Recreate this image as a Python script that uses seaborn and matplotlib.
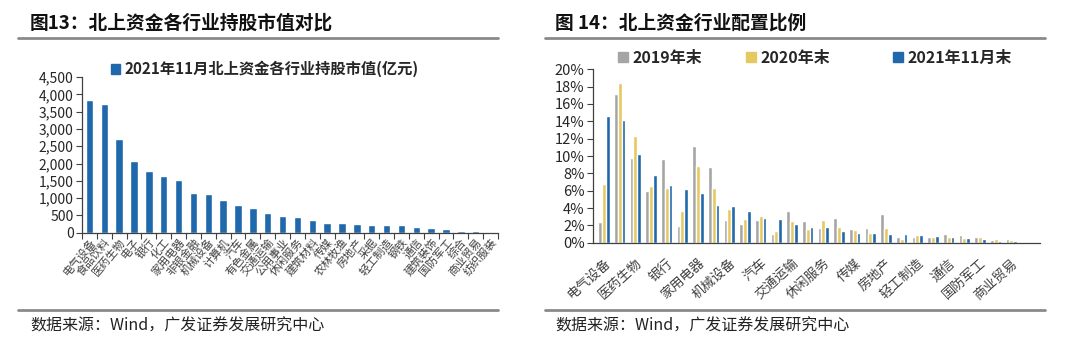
import matplotlib
matplotlib.use('Agg')
import matplotlib.pyplot as plt
import seaborn as sns
import pandas as pd
import numpy as np
from matplotlib.ticker import FuncFormatter, MultipleLocator
from matplotlib.patches import Patch
from matplotlib.lines import Line2D

# ---------------- data ----------------
industries = ['电气设备', '食品饮料', '医药生物', '电子', '银行', '化工', '家用电器',
              '非银金融', '机械设备', '计算机', '汽车', '有色金属', '交通运输', '公用事业',
              '休闲服务', '建筑材料', '传媒', '农林牧渔', '房地产', '采掘', '轻工制造',
              '钢铁', '通信', '建筑装饰', '国防军工', '综合', '商业贸易', '纺织服装']
mv_2021_11 = [3840, 3720, 2715, 2075, 1770, 1640, 1525, 1145, 1125, 950, 800, 725,
              555, 490, 450, 355, 290, 290, 250, 230, 210, 210, 155, 135, 115, 60, 40, 10]
w_2019 = [2.4, 17.2, 9.8, 6.0, 9.6, 1.9, 11.2, 8.7, 2.6, 2.2, 2.6, 1.0, 3.6, 2.5,
          1.65, 2.9, 1.55, 1.75, 3.3, 0.6, 0.7, 0.6, 1.0, 0.9, 0.6, 0.3, 0.38, 0.1]
w_2020 = [6.8, 18.4, 12.3, 6.5, 6.3, 3.7, 8.8, 6.3, 3.9, 2.7, 3.1, 1.4, 2.5, 1.55,
          2.6, 1.85, 1.45, 1.15, 1.75, 0.45, 0.85, 0.7, 0.7, 0.58, 0.6, 0.38, 0.3, 0.08]
w_2021 = [14.6, 14.1, 10.2, 7.8, 6.6, 6.2, 5.7, 4.3, 4.2, 3.6, 2.9, 2.7, 2.1, 1.85,
          1.77, 1.38, 1.15, 1.15, 0.96, 0.96, 0.88, 0.77, 0.62, 0.54, 0.46, 0.23, 0.2, 0.04]
series_names = ['2019年末', '2020年末', '2021年11月末']
left_legend = '2021年11月北上资金各行业持股市值(亿元)'
title_left = '图13：北上资金各行业持股市值对比'
title_right = '图 14：北上资金行业配置比例'
source = '数据来源：Wind，广发证券发展研究中心'

# ---------------- style ----------------
BLUE = '#1F68AC'
GRAY = '#A5A5A5'
YELLOW = '#E6C861'
TXT = '#262626'

sns.set_theme(style='white')
plt.rcParams['font.family'] = ['Noto Sans CJK SC', 'DejaVu Sans']
plt.rcParams['axes.unicode_minus'] = False

W, H = 1080, 355
fig = plt.figure(figsize=(W / 100, H / 100), dpi=100)
fig.patch.set_facecolor('white')


def fx(px):
    return px / W


def fy(py):
    return 1 - py / H


# ---------------- left chart ----------------
ax1 = fig.add_axes([fx(82), fy(232.7), fx(498 - 82), fy(77) - fy(232.7)])
df1 = pd.DataFrame({'行业': industries, '市值': mv_2021_11})
sns.barplot(data=df1, x='行业', y='市值', color=BLUE, saturation=1, width=0.5, ax=ax1)
ax1.set_xlim(-0.42, 27.47)
ax1.set_ylim(0, 4500)
ax1.yaxis.set_major_locator(MultipleLocator(500))
ax1.yaxis.set_major_formatter(FuncFormatter(lambda v, p: f'{int(v):,}'))
ax1.set_xlabel('')
ax1.set_ylabel('')
ax1.set_xticks(range(len(industries)))
ax1.set_xticklabels(industries, rotation=50, ha='right', rotation_mode='anchor',
                    fontsize=8, color='#404040')
ax1.set_xticks(np.arange(-0.5, len(industries), 1), minor=True)
ax1.tick_params(axis='x', which='major', length=0, pad=3)
ax1.tick_params(axis='x', which='minor', bottom=True, length=4, width=0.8, color='#404040',
                direction='out')
ax1.tick_params(axis='y', left=True, length=4, width=0.8, color='#404040', direction='out',
                labelsize=10, labelcolor=TXT, pad=2)
for s in ['top', 'right']:
    ax1.spines[s].set_visible(False)
for s in ['left', 'bottom']:
    ax1.spines[s].set_color('#404040')
    ax1.spines[s].set_linewidth(0.9)
ax1.grid(False)

fig.legend(handles=[Patch(color=BLUE, label=left_legend)], loc='center left',
           bbox_to_anchor=(fx(103), fy(69)), frameon=False, borderpad=0,
           handlelength=0.6, handleheight=0.6, handletextpad=0.3,
           prop={'size': 11, 'weight': 'bold'})

# ---------------- right chart ----------------
ax2 = fig.add_axes([fx(593), fy(242.7), fx(1040 - 593), fy(69.3) - fy(242.7)])
df2 = pd.DataFrame({
    '行业': industries * 3,
    '年份': [series_names[0]] * len(industries) + [series_names[1]] * len(industries)
            + [series_names[2]] * len(industries),
    '比例': w_2019 + w_2020 + w_2021,
})
sns.barplot(data=df2, x='行业', y='比例', hue='年份', hue_order=series_names,
            palette=[GRAY, YELLOW, BLUE], saturation=1, width=0.72, gap=0, ax=ax2)
if ax2.get_legend() is not None:
    ax2.get_legend().remove()
ax2.set_xlim(-0.7, 27.83)
ax2.set_ylim(0, 20)
ax2.yaxis.set_major_locator(MultipleLocator(2))
ax2.yaxis.set_major_formatter(FuncFormatter(lambda v, p: f'{int(round(v))}%'))
ax2.set_xlabel('')
ax2.set_ylabel('')
ax2.set_xticks(range(len(industries)))
ax2.set_xticklabels([lab if i % 2 == 0 else '' for i, lab in enumerate(industries)],
                    rotation=42, ha='right', rotation_mode='anchor', fontsize=9.5,
                    color='#404040')
ax2.tick_params(axis='x', length=0, pad=10)
ax2.tick_params(axis='y', left=True, length=4, width=0.8, color='#404040', direction='out',
                labelsize=10.5, labelcolor=TXT, pad=2)
for s in ['top', 'right']:
    ax2.spines[s].set_visible(False)
for s in ['left', 'bottom']:
    ax2.spines[s].set_color('#404040')
    ax2.spines[s].set_linewidth(0.9)
ax2.grid(False)

for name, col, xpx in zip(series_names, [GRAY, YELLOW, BLUE], [610, 738, 885]):
    fig.legend(handles=[Patch(color=col, label=name)], loc='center left',
               bbox_to_anchor=(fx(xpx), fy(58)), frameon=False, borderpad=0,
               handlelength=0.6, handleheight=0.6, handletextpad=0.3,
               prop={'size': 11.5, 'weight': 'bold'})

# ---------------- frame texts / rules ----------------
fig.text(fx(30), fy(23), title_left, fontsize=13.5, fontweight='bold', color='#111111',
         va='center', ha='left')
fig.text(fx(555), fy(23), title_right, fontsize=13.5, fontweight='bold', color='#111111',
         va='center', ha='left')
for x0, x1 in [(18, 498), (545, 1045)]:
    for yy in [38, 310]:
        fig.add_artist(Line2D([fx(x0), fx(x1)], [fy(yy), fy(yy)], color='#8a8a8a', lw=2))
fig.text(fx(30), fy(326), source, fontsize=11.5, color='#222222', va='center', ha='left')
fig.text(fx(555), fy(326), source, fontsize=11.5, color='#222222', va='center', ha='left')

fig.savefig('out.png', dpi=100, facecolor='white')
